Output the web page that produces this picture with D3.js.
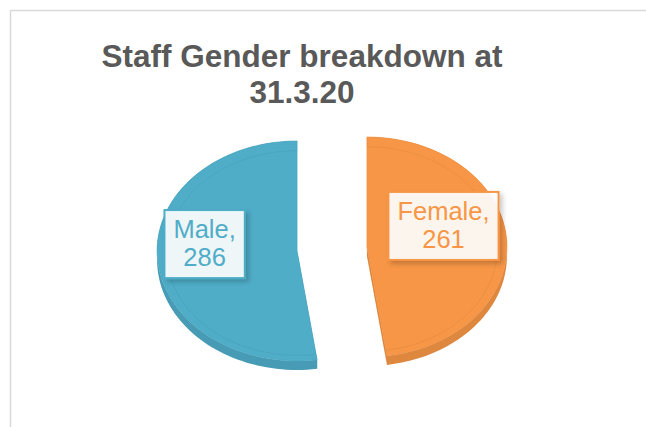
<!DOCTYPE html>
<html>
<head>
<meta charset="utf-8">
<script src="https://cdn.jsdelivr.net/npm/d3@7"></script>
<style>
  body { margin: 0; background: #ffffff; }
  text { font-family: "Liberation Sans", Arial, sans-serif; }
</style>
</head>
<body>
<svg id="chart" width="646" height="427"></svg>
<script>
// chart data
var categories = ["Male", "Female"];
var values = [286, 261];
var titleLines = ["Staff Gender breakdown at", "31.3.20"];

var colors = ["#4fadc8", "#f79646"];

var svg = d3.select("#chart");
var width = +svg.attr("width");
var height = +svg.attr("height");

// chart area border
svg.append("rect")
    .attr("x", 10.5)
    .attr("y", 10.5)
    .attr("width", width)
    .attr("height", height)
    .style("fill", "#ffffff")
    .style("stroke", "#d9d9d9")
    .style("stroke-width", 1.5);

// title
svg.append("g").selectAll("text")
    .data(titleLines)
  .enter().append("text")
    .attr("x", 302)
    .attr("y", function(d, i) { return 67 + i * 36; })
    .attr("text-anchor", "middle")
    .style("font-size", "31.5px")
    .style("font-weight", "bold")
    .style("fill", "#595959")
    .text(function(d) { return d; });

// drop shadow for the label boxes
var defs = svg.append("defs");
var shadow = defs.append("filter")
    .attr("id", "shadow")
    .attr("x", "-20%").attr("y", "-20%")
    .attr("width", "150%").attr("height", "150%");
shadow.append("feDropShadow")
    .attr("dx", 3).attr("dy", 3)
    .attr("stdDeviation", 2.5)
    .attr("flood-color", "#000")
    .attr("flood-opacity", 0.22);

// 3d pie layout parameters
var cx = 332, cy = 249, rx = 140, ry = 110, depth = 9, explode = 35;

var data = categories.map(function(c, i) {
  return {name: c, value: values[i], color: colors[i]};
});

// counter-clockwise from 12 o'clock so Male sits on the left
var pie = d3.pie()
    .sort(null)
    .startAngle(0)
    .endAngle(-2 * Math.PI)
    .value(function(d) { return d.value; });

var arcs = pie(data);

function pt(a, r, dz, off) {
  return [cx + off[0] + rx * r * Math.sin(a), cy + off[1] - ry * r * Math.cos(a) + dz];
}

function arcPoints(a0, a1, r, dz, off) {
  var n = 90;
  return d3.range(n + 1).map(function(k) {
    return pt(a0 + (a1 - a0) * k / n, r, dz, off);
  });
}

var line = d3.line();

var slices = svg.append("g").selectAll(".slice")
    .data(arcs)
  .enter().append("g")
    .attr("class", "slice");

slices.each(function(d) {
  var g = d3.select(this);
  var mid = (d.startAngle + d.endAngle) / 2;
  var off = [explode * Math.sin(mid), -explode * (ry / rx) * Math.cos(mid)];
  d.off = off;
  d.mid = mid;
  var side = d3.color(d.data.color).darker(0.3).formatHex();

  // outer wall
  var topArc = arcPoints(d.startAngle, d.endAngle, 1, 0, off);
  var botArc = arcPoints(d.startAngle, d.endAngle, 1, depth, off).reverse();
  g.append("path")
      .attr("d", line(topArc.concat(botArc)) + "Z")
      .style("fill", side);

  // cut faces
  [d.startAngle, d.endAngle].forEach(function(a) {
    var q = [pt(a, 0, 0, off), pt(a, 1, 0, off), pt(a, 1, depth, off), pt(a, 0, depth, off)];
    g.append("path")
        .attr("d", line(q) + "Z")
        .style("fill", side);
  });

  // top face
  var face = [pt(0, 0, 0, off)].concat(topArc);
  g.append("path")
      .attr("d", line(face) + "Z")
      .style("fill", d.data.color)
      .style("stroke", d3.color(d.data.color).darker(0.15).formatHex())
      .style("stroke-width", 0.6);

  // bevel line on the face
  g.append("path")
      .attr("d", line(arcPoints(d.startAngle, d.endAngle, 0.93, 2, off)))
      .style("fill", "none")
      .style("stroke", d3.color(d.data.color).darker(0.35).formatHex())
      .style("stroke-opacity", 0.4)
      .style("stroke-width", 1);
});

// data labels
var labels = svg.append("g").selectAll(".label")
    .data(arcs)
  .enter().append("g")
    .attr("class", "label");

labels.each(function(d) {
  var g = d3.select(this);
  var box = g.append("rect");
  var lines = [d.data.name + ",", d.data.value];
  var texts = g.selectAll("text")
      .data(lines)
    .enter().append("text")
      .attr("text-anchor", "middle")
      .style("font-size", "25.5px")
      .style("fill", d.data.color)
      .text(function(t) { return t; });

  var tw = d3.max(texts.nodes(), function(n) { return n.getComputedTextLength(); });
  var bw = tw + 18, bh = 68;
  var outer = pt(d.mid, 1, 0, d.off);
  var bx = Math.sin(d.mid) < 0 ? outer[0] + 7 : outer[0] - 8 - bw;
  var bcy = pt(d.mid, 0.9, 0, d.off)[1] - 14;

  box.attr("x", bx)
      .attr("y", bcy - bh / 2)
      .attr("width", bw)
      .attr("height", bh)
      .style("fill", "rgba(255,255,255,0.9)")
      .style("stroke", d.data.color)
      .style("stroke-width", 2)
      .attr("filter", "url(#shadow)");

  texts.attr("x", bx + bw / 2)
      .attr("y", function(t, i) { return bcy - 6 + i * 28; });
});
</script>
</body>
</html>
